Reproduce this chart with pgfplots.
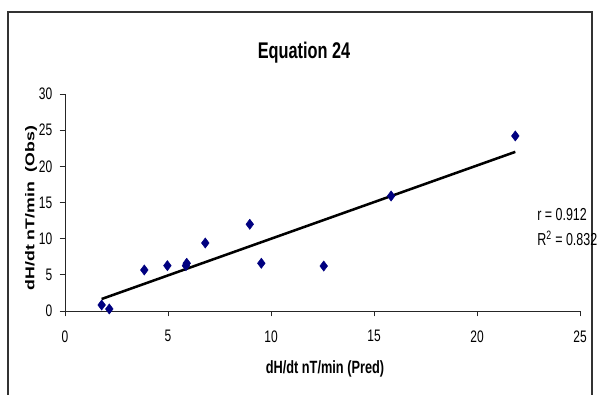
\documentclass[border=0pt]{standalone}
\usepackage{pgfplots}
\pgfplotsset{compat=1.18}
\usepackage{graphicx}
\usepackage{fontspec}
\setmainfont{Liberation Sans}[FakeStretch=0.72]
\newfontfamily\ylabfont{Liberation Sans}
\definecolor{navy}{RGB}{0,0,128}
\begin{document}
\begin{tikzpicture}
\useasboundingbox (0,0) rectangle (450pt,295.5pt);
\draw[line width=1.1pt, black!80] (6pt,-2pt) -- (6pt,286.5pt) -- (444pt,286.5pt) -- (444pt,-2pt);
\begin{axis}[
  at={(48.75pt,62.25pt)}, anchor=origin,
  scale only axis, width=386.25pt, height=162.75pt,
  xmin=0, xmax=25, ymin=0, ymax=30,
  xtick={0,5,...,25}, ytick={0,5,...,30},
  axis x line*=bottom, axis y line*=left,
  axis line style={line width=0.6pt, black!85, -},
  tick align=outside, tick style={line width=0.6pt, black!85},
  major tick length=4pt,
  tick label style={font=\fontsize{12.5}{13}\selectfont},
  /pgf/number format/assume math mode=true,
  xticklabel style={yshift=-7pt},
  yticklabel style={xshift=-2pt},
  clip=false,
]
\addplot[only marks, mark=diamond*, mark size=3.8pt, navy, mark options={fill=navy, draw=navy}] coordinates {
(1.78,0.83) (2.15,0.28) (3.85,5.67) (4.97,6.27) (5.87,6.27) (5.91,6.6)
(6.81,9.4) (8.97,11.99) (9.53,6.6) (12.56,6.22) (15.83,15.9) (21.86,24.2)
};
\addplot[black, line width=1.9pt] coordinates {(1.78,1.66) (21.86,22.0)};
\end{axis}
\node[font=\bfseries\fontsize{17}{19}\selectfont] at (228pt,255.75pt) {Equation 24};
\node[font=\bfseries\fontsize{13.3}{15}\selectfont] at (243.75pt,18.75pt) {dH/dt nT/min (Pred)};
\node[rotate=90] at (23.25pt,139.5pt) {\scalebox{1}[0.72]{\ylabfont\bfseries\fontsize{13.3}{15}\selectfont dH/dt nT/min\ \ (Obs)}};
\node[anchor=west, font=\fontsize{13}{15}\selectfont, inner sep=0pt] at (402.75pt,134.25pt) {r = 0.912};
\node[anchor=west, font=\fontsize{13}{15}\selectfont, inner sep=0pt] at (402.75pt,117pt) {R\textsuperscript{2} = 0.832};
\end{tikzpicture}
\end{document}
